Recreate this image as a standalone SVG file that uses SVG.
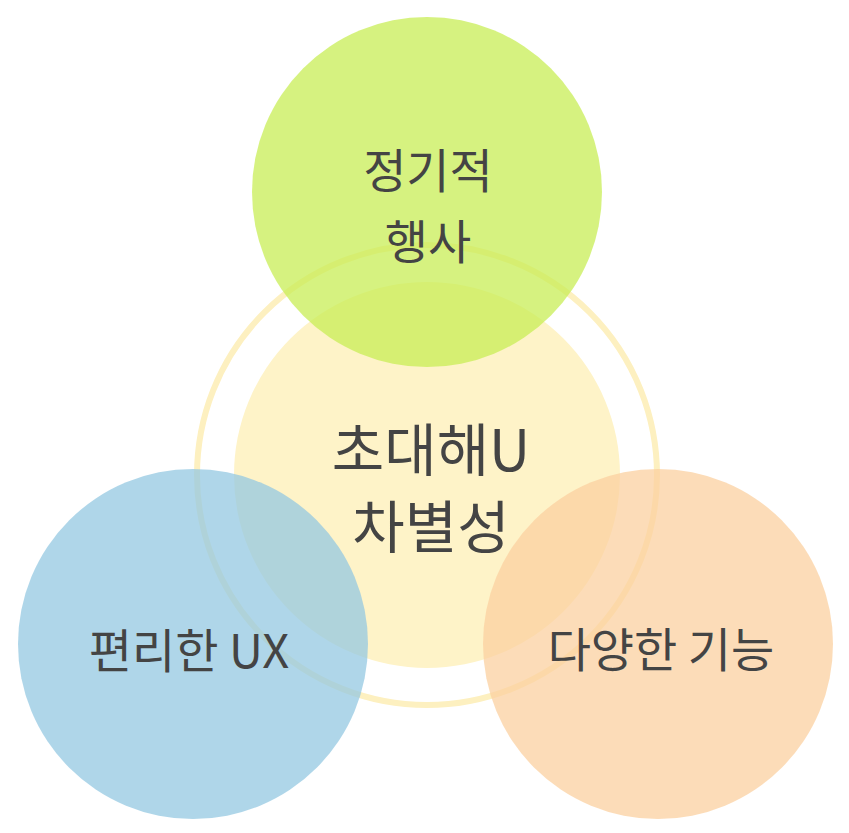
<svg xmlns="http://www.w3.org/2000/svg" width="849" height="833" viewBox="0 0 849 833">
<style>
.t{font-family:"Noto Sans CJK KR","Noto Sans",sans-serif;fill:#444444;text-anchor:middle;font-weight:400}
.s{font-size:47px}
.c{font-size:57px}
</style>
<rect width="849" height="833" fill="#ffffff"/>
<g id="center">
<circle cx="427" cy="475" r="193" fill="#fef3c8"/>
<circle cx="427" cy="475" r="230" fill="none" stroke="#fdf0c0" stroke-width="6"/>
</g>
<g id="top">
<circle cx="427" cy="192" r="175" fill="rgb(200,237,85)" fill-opacity="0.75"/>
<text class="t s" x="428" y="188">정기적</text>
<text class="t s" x="428" y="259">행사</text>
</g>
<g id="left">
<circle cx="193" cy="644" r="175" fill="rgb(148,200,225)" fill-opacity="0.75"/>
<text class="t s" x="189" y="668">편리한 UX</text>
</g>
<g id="right">
<circle cx="658" cy="644" r="175" fill="rgb(251,208,160)" fill-opacity="0.75"/>
<text class="t s" x="661" y="667">다양한 기능</text>
</g>
<g id="center-label">
<text class="t c" x="431" y="471">초대해U</text>
<text class="t c" x="431" y="548">차별성</text>
</g>
<g id="connectors"/>
</svg>
